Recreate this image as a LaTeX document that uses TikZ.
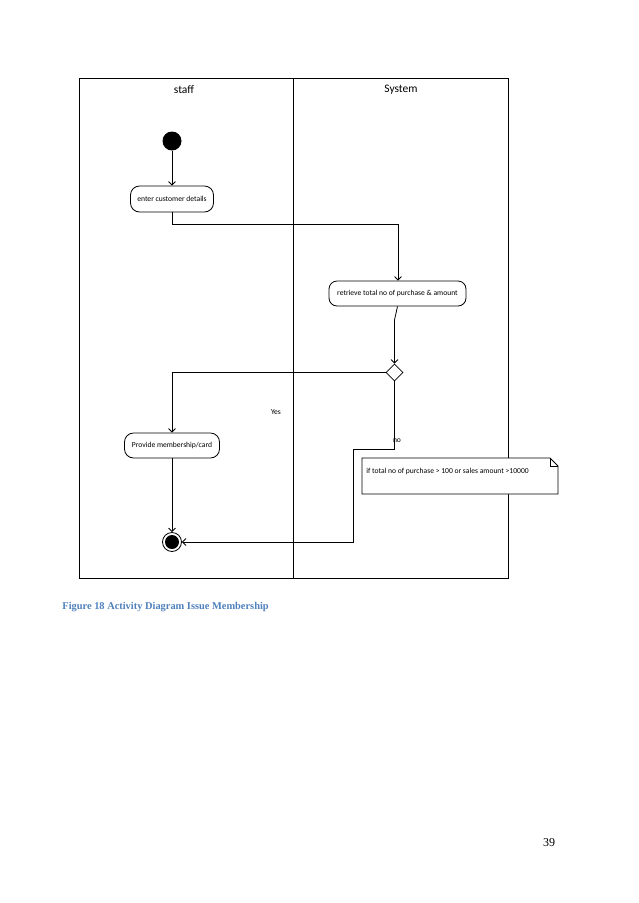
\documentclass[tikz,border=0pt]{standalone}
\usepackage{fontspec}
\setmainfont{Liberation Serif}
\newfontfamily\calfont{Carlito}
\usetikzlibrary{arrows.meta,shapes.geometric}
\definecolor{capblue}{RGB}{79,129,189}
\begin{document}
\begin{tikzpicture}[x=1pt,y=-1pt,
  line width=0.8pt,
  act/.style={draw,rounded corners=9pt,inner sep=0pt,font=\calfont\fontsize{7.6}{9}\selectfont},
  flow/.style={-{Straight Barb[length=3.5pt,width=7pt]}},
  lane/.style={font=\calfont\fontsize{11.5}{13}\selectfont}]
\useasboundingbox (0,0) rectangle (638,903);
% frame
\draw (79,78) rectangle (508,578);
\draw (293,78) -- (293,578);
\node[lane] (staff) at (184,90) {staff};
\node[lane] (sys) at (401,90) {System};
% nodes
\node[circle,fill=black,minimum size=19pt,inner sep=0pt] (init) at (172,141) {};
\node[act,minimum width=83pt,minimum height=26pt] (enter) at (172,199) {enter customer details};
\node[act,minimum width=137pt,minimum height=25pt,rounded corners=8pt] (retr) at (397.5,293.5) {retrieve total no of purchase \& amount};
\node[diamond,draw,minimum width=17pt,minimum height=17pt,inner sep=0pt] (dec) at (394.5,372.5) {};
\node[act,minimum width=95pt,minimum height=25pt] (prov) at (172,445.5) {Provide membership/card};
\node[circle,draw,minimum size=19pt,inner sep=0pt] (fin) at (172,542) {};
\node[circle,fill=black,minimum size=14pt,inner sep=0pt] at (fin) {};
% note
\coordinate (n1) at (362,458);
\coordinate (n2) at (550,458);
\coordinate (n3) at (558,466);
\coordinate (n4) at (558,494);
\coordinate (n5) at (362,494);
\draw[fill=white] (n1) -- (n2) -- (n3) -- (n4) -- (n5) -- cycle;
\draw (n2) -- (550,466) -- (n3);
\node[anchor=west,font=\calfont\fontsize{7.6}{9}\selectfont,inner sep=0pt] (notetext) at (366,471) {if total no of purchase > 100 or sales amount >10000};
% connectors
\draw[flow] (init) -- (enter);
\draw[flow] (enter.south) |- (398,224) -- (retr.north -| 398,0);
\coordinate (bend) at (394.5,320);
\draw[flow] (retr.south) -- (bend) -- (dec.north);
\draw[flow] (dec.west) -| (prov.north);
\draw[flow] (dec.south) -- (394.5,449) -- (353,449) -- (353,542) -- (fin.east);
\draw[flow] (prov.south) -- (fin.north);
\node[font=\calfont\fontsize{7.6}{9}\selectfont] (yes) at (276,412) {Yes};
\node[font=\calfont\fontsize{7.6}{9}\selectfont] (no) at (397,441) {no};
% caption
\node[anchor=west,inner sep=0pt,text=capblue,font=\bfseries\fontsize{10.4}{12}\selectfont] (cap) at (62,607) {Figure 18 Activity Diagram Issue Membership};
\node[font=\fontsize{12}{14}\selectfont] (pg) at (549,843) {39};
\end{tikzpicture}
\end{document}
